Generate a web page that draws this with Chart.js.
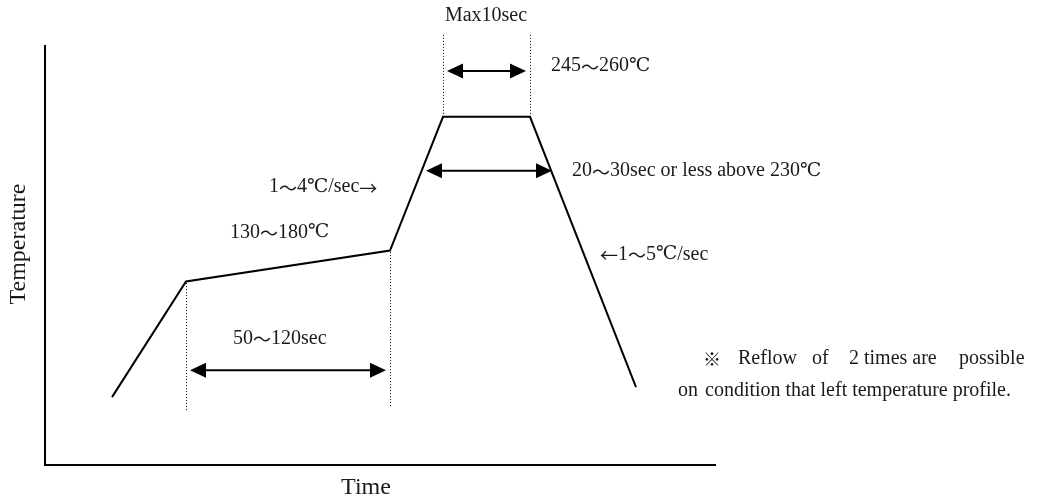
<!DOCTYPE html>
<html>
<head>
<meta charset="utf-8">
<script src="https://cdn.jsdelivr.net/npm/chart.js@4.4.0/dist/chart.umd.min.js"></script>
<style>
  html, body { margin: 0; padding: 0; background: #fff; }
  #wrap { width: 1053px; height: 502px; }
</style>
</head>
<body>
<div id="wrap"><canvas id="c" width="1053" height="502"></canvas></div>
<script>
// Reflow profile (diagram units: time 0..670, temperature 0..420)
const profileTime = [67, 141, 345, 398, 485, 591];
const profileTemp = [68, 184, 215, 349, 349, 78];

// Dotted guide lines: [time, tempFrom, tempTo]
const guideTime = [141, 345, 398, 485];
const guideFrom = [55, 59, 349, 349];
const guideTo = [184, 215, 433, 433];

// Double-headed arrows: [temp, timeFrom, timeTo]
const arrowTemp = [95, 395, 295];
const arrowFrom = [141, 398, 377];
const arrowTo = [345, 485, 511];

// Labels
const labelText = ["Max10sec", "245～260℃", "20～30sec or less above 230℃", "1～4℃/sec→", "130～180℃", "50～120sec", "←1～5℃/sec",
  "※", "Reflow", "of", "2 times are", "possible", "on", "condition that left temperature profile."];
const labelTime = [441, 506, 527, 224, 185, 188, 555, 658, 693, 767, 804, 914, 633, 660];
const labelTemp = [450, 400, 295, 279, 233, 127, 211, 107, 107, 107, 107, 107, 74, 74];
const labelAlign = ["center", "left", "left", "left", "left", "left", "left", "left", "left", "left", "left", "left", "left", "left"];

const xTitle = "Time";
const yTitle = "Temperature";

const LATIN = '"Liberation Serif", "DejaVu Serif", serif';
const CJK = '"Noto Sans CJK KR", "Noto Sans CJK JP", sans-serif';
const DEG = '"DejaVu Serif", serif';

function fontFor(kind, size) {
  if (kind === 'cjk') return Math.round(size * 0.9) + 'px ' + CJK;
  if (kind === 'deg') return Math.round(size * 0.95) + 'px ' + DEG;
  return size + 'px ' + LATIN;
}
function kindOf(ch) {
  if ('～→←※'.includes(ch)) return 'cjk';
  if (ch === '℃') return 'deg';
  return 'lat';
}

function drawMixed(ctx, text, x, y, align, size) {
  const runs = [];
  for (const ch of text) {
    const k = kindOf(ch);
    if (runs.length && runs[runs.length - 1].k === k) runs[runs.length - 1].t += ch;
    else runs.push({ t: ch, k });
  }
  let total = 0;
  for (const r of runs) {
    ctx.font = fontFor(r.k, size);
    r.w = ctx.measureText(r.t).width;
    total += r.w;
  }
  let cx = align === 'center' ? x - total / 2 : x;
  ctx.textAlign = 'left';
  for (const r of runs) {
    ctx.font = fontFor(r.k, size);
    ctx.fillText(r.t, cx, y + (r.k === 'cjk' ? 1 : 0));
    cx += r.w;
  }
}

const overlay = {
  id: 'overlay',
  afterDatasetsDraw(chart) {
    const ctx = chart.ctx;
    const xs = chart.scales.x, ys = chart.scales.y;
    ctx.save();
    // dotted guides
    ctx.strokeStyle = '#000';
    ctx.lineWidth = 1;
    ctx.setLineDash([1, 2]);
    for (let i = 0; i < guideTime.length; i++) {
      const px = Math.round(xs.getPixelForValue(guideTime[i])) + 0.5;
      ctx.beginPath();
      ctx.moveTo(px, ys.getPixelForValue(guideFrom[i]));
      ctx.lineTo(px, ys.getPixelForValue(guideTo[i]));
      ctx.stroke();
    }
    ctx.setLineDash([]);
    // arrows
    ctx.lineWidth = 2;
    ctx.fillStyle = '#000';
    const headL = 16, headW = 7.5;
    for (let i = 0; i < arrowTemp.length; i++) {
      const py = ys.getPixelForValue(arrowTemp[i]);
      const x1 = xs.getPixelForValue(arrowFrom[i]) + 4;
      const x2 = xs.getPixelForValue(arrowTo[i]) - 4;
      ctx.beginPath();
      ctx.moveTo(x1 + headL - 2, py);
      ctx.lineTo(x2 - headL + 2, py);
      ctx.stroke();
      ctx.beginPath();
      ctx.moveTo(x1, py);
      ctx.lineTo(x1 + headL, py - headW);
      ctx.lineTo(x1 + headL, py + headW);
      ctx.closePath();
      ctx.fill();
      ctx.beginPath();
      ctx.moveTo(x2, py);
      ctx.lineTo(x2 - headL, py - headW);
      ctx.lineTo(x2 - headL, py + headW);
      ctx.closePath();
      ctx.fill();
    }
    // labels
    ctx.fillStyle = '#1a1a1a';
    ctx.textBaseline = 'middle';
    for (let i = 0; i < labelText.length; i++) {
      drawMixed(ctx, labelText[i], xs.getPixelForValue(labelTime[i]), ys.getPixelForValue(labelTemp[i]), labelAlign[i], 20);
    }
    // axis titles
    ctx.font = '24px ' + LATIN;
    ctx.textAlign = 'center';
    ctx.fillText(xTitle, 366, 488);
    ctx.translate(19, 244);
    ctx.rotate(-Math.PI / 2);
    ctx.fillText(yTitle, 0, 0);
    ctx.restore();
  }
};

new Chart(document.getElementById('c'), {
  type: 'scatter',
  data: {
    datasets: [{
      data: profileTime.map((t, i) => ({ x: t, y: profileTemp[i] })),
      showLine: true,
      borderColor: '#000',
      borderWidth: 2,
      pointRadius: 0,
      tension: 0,
      fill: false
    }]
  },
  options: {
    responsive: false,
    animation: false,
    events: [],
    layout: { padding: { left: 45, right: 338, top: 46, bottom: 37 } },
    plugins: { legend: { display: false }, tooltip: { enabled: false }, title: { display: false } },
    scales: {
      x: {
        type: 'linear', min: 0, max: 670,
        ticks: { display: false },
        grid: { display: false, drawTicks: false },
        border: { display: true, color: '#000', width: 2 },
        afterFit(s) { s.height = 0; }
      },
      y: {
        type: 'linear', min: 0, max: 420,
        ticks: { display: false },
        grid: { display: false, drawTicks: false },
        border: { display: true, color: '#000', width: 2 },
        afterFit(s) { s.width = 0; }
      }
    }
  },
  plugins: [overlay]
});
</script>
</body>
</html>
